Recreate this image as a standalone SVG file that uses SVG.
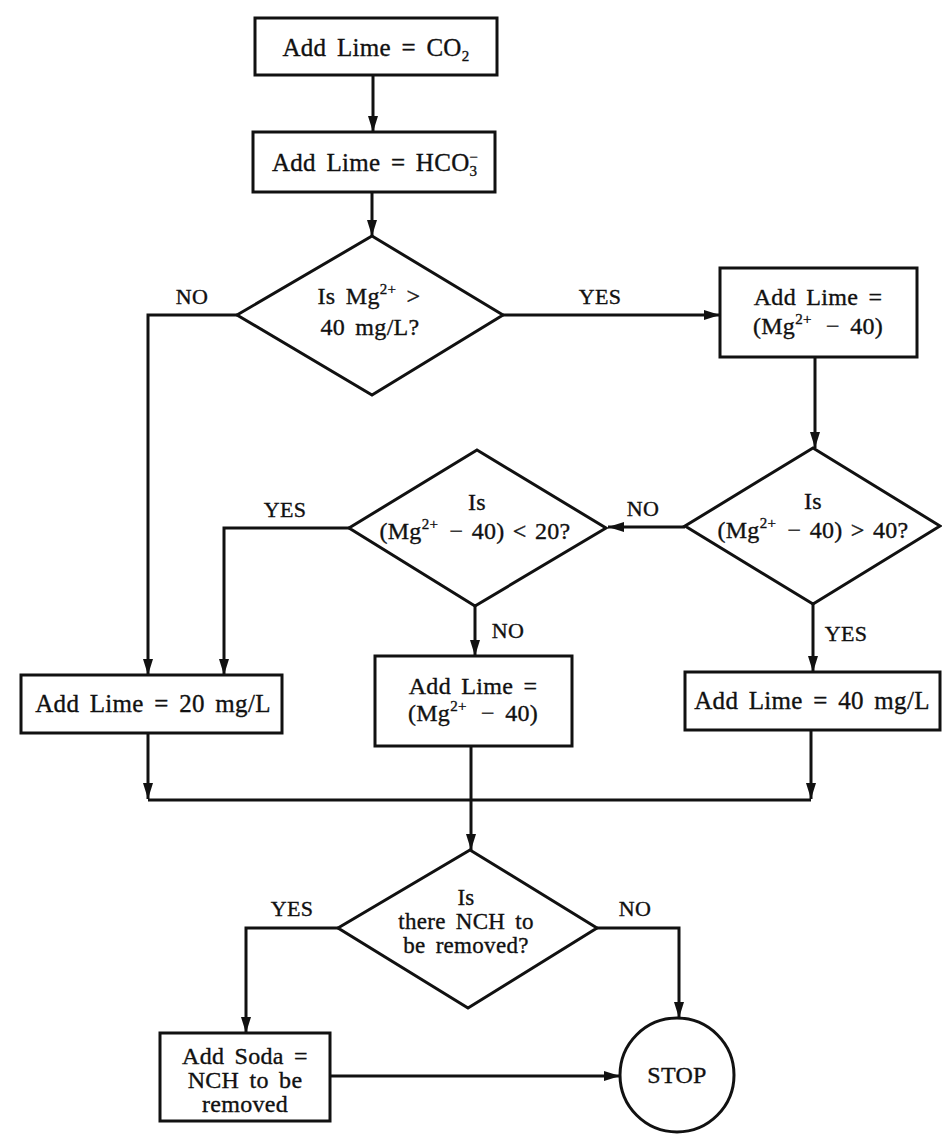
<svg xmlns="http://www.w3.org/2000/svg" width="942" height="1138" viewBox="0 0 942 1138">
<defs>
<style>
.shape{fill:none;stroke:#111;stroke-width:3}
.ln{fill:none;stroke:#111;stroke-width:3}
.arr{marker-end:url(#ah)}
text{font-family:"Liberation Serif","DejaVu Serif",serif;fill:#111;stroke:#111;stroke-width:0.35;text-anchor:middle;word-spacing:4px;letter-spacing:0.3px}
.t{font-size:25px}
.d{font-size:24px}
.d4{font-size:23px}
.lbl{font-size:22px}
.sup{font-size:15px}
</style>
<marker id="ah" viewBox="0 0 16 10" refX="16" refY="5" markerWidth="16" markerHeight="10" markerUnits="userSpaceOnUse" orient="auto">
<path d="M0,0 L16,5 L0,10 z" fill="#111"/>
</marker>
</defs>
<rect width="942" height="1138" fill="#fff"/>

<g id="connectors">
<line class="ln arr" x1="373" y1="75" x2="373" y2="132"/>
<line class="ln arr" x1="372" y1="192" x2="372" y2="236"/>
<line class="ln arr" x1="503" y1="315" x2="720" y2="315"/>
<polyline class="ln arr" points="237,315 148,315 148,675"/>
<line class="ln arr" x1="815" y1="357" x2="815" y2="448"/>
<line class="ln arr" x1="685" y1="527" x2="608" y2="527"/>
<polyline class="ln arr" points="349,528 224,528 224,675"/>
<line class="ln arr" x1="475" y1="606" x2="475" y2="656"/>
<line class="ln arr" x1="813" y1="604" x2="813" y2="672"/>
<line class="ln arr" x1="148" y1="733" x2="148" y2="799"/>
<line class="ln arr" x1="811" y1="730" x2="811" y2="799"/>
<line class="ln" x1="148" y1="800" x2="811" y2="800"/>
<line class="ln arr" x1="471" y1="746" x2="471" y2="850"/>
<polyline class="ln arr" points="338,928 246,928 246,1033"/>
<polyline class="ln arr" points="597,928 679,928 679,1018"/>
<line class="ln arr" x1="330" y1="1076" x2="620" y2="1076"/>
<text class="lbl" x="192" y="304">NO</text>
<text class="lbl" x="600" y="304">YES</text>
<text class="lbl" x="643" y="516">NO</text>
<text class="lbl" x="285" y="517">YES</text>
<text class="lbl" x="508" y="638">NO</text>
<text class="lbl" x="846" y="641">YES</text>
<text class="lbl" x="292" y="916">YES</text>
<text class="lbl" x="635" y="916">NO</text>
</g>

<g id="n1">
<rect class="shape" x="255" y="18" width="242" height="57"/>
<text class="t" x="376" y="56">Add Lime = CO<tspan class="sup" dy="5">2</tspan></text>
</g>
<g id="n2">
<rect class="shape" x="253" y="132" width="242" height="60"/>
<text class="t" x="375" y="171">Add Lime = HCO<tspan class="sup" dy="5">3</tspan><tspan class="sup" dx="-8" dy="-14">−</tspan></text>
</g>
<g id="d1">
<polygon class="shape" points="372,236 503,315 372,395 237,315"/>
<text class="d" x="369" y="304">Is Mg<tspan class="sup" dy="-10">2+</tspan><tspan dy="10"> &gt;</tspan></text>
<text class="d" x="370" y="335">40 mg/L?</text>
</g>
<g id="n4">
<rect class="shape" x="720" y="268" width="197" height="89"/>
<text class="d" x="818" y="305">Add Lime =</text>
<text class="d" x="818" y="334">(Mg<tspan class="sup" dy="-10">2+</tspan><tspan dy="10" dx="4"> − 40)</tspan></text>
</g>
<g id="d3">
<polygon class="shape" points="813,448 940,526 813,604 685,526"/>
<text class="d" x="813" y="509">Is</text>
<text class="d" x="813" y="538" style="word-spacing:2px">(Mg<tspan class="sup" dy="-10">2+</tspan><tspan dy="10" dx="3"> − 40) &gt; 40?</tspan></text>
</g>
<g id="d2">
<polygon class="shape" points="477,450 606,528 475,606 349,528"/>
<text class="d" x="477" y="510">Is</text>
<text class="d" x="475" y="539" style="word-spacing:2px">(Mg<tspan class="sup" dy="-10">2+</tspan><tspan dy="10" dx="3"> − 40) &lt; 20?</tspan></text>
</g>
<g id="n3">
<rect class="shape" x="21" y="675" width="261" height="58"/>
<text class="t" x="153" y="712">Add Lime = 20 mg/L</text>
</g>
<g id="n5">
<rect class="shape" x="375" y="656" width="197" height="90"/>
<text class="d" x="473" y="694">Add Lime =</text>
<text class="d" x="473" y="721">(Mg<tspan class="sup" dy="-10">2+</tspan><tspan dy="10" dx="4"> − 40)</tspan></text>
</g>
<g id="n6">
<rect class="shape" x="685" y="672" width="255" height="58"/>
<text class="t" x="812" y="709">Add Lime = 40 mg/L</text>
</g>
<g id="d4">
<polygon class="shape" points="470,850 597,928 468,1008 338,928"/>
<text class="d4" x="466" y="905">Is</text>
<text class="d4" x="466" y="929">there NCH to</text>
<text class="d4" x="466" y="953">be removed?</text>
</g>
<g id="n7">
<rect class="shape" x="160" y="1033" width="170" height="88"/>
<text class="d" x="245" y="1064">Add Soda =</text>
<text class="d" x="245" y="1088">NCH to be</text>
<text class="d" x="245" y="1112">removed</text>
</g>
<g id="stop">
<ellipse class="shape" cx="677" cy="1075" rx="57" ry="57"/>
<text class="d" x="677" y="1083">STOP</text>
</g>
</svg>
